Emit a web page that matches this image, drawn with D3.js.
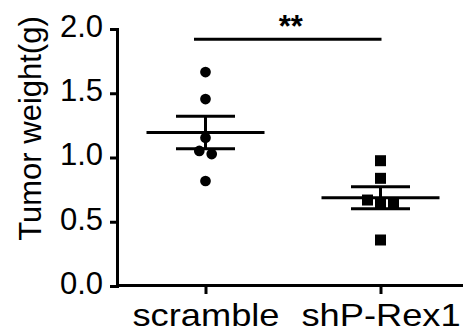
<!DOCTYPE html>
<html>
<head>
<meta charset="utf-8">
<script src="https://cdn.jsdelivr.net/npm/d3@7"></script>
<style>
  body { margin: 0; background: #fff; }
  svg { display: block; font-family: 'Liberation Sans', Arial, sans-serif; }
</style>
</head>
<body>
<svg id="chart"></svg>
<script>
// values (tumor weight, g)
const categories = ['scramble', 'shP-Rex1'];
const scrambleWeights = [1.665, 1.455, 1.154, 1.051, 1.027, 0.817];
const shpRex1Weights = [0.975, 0.838, 0.669, 0.638, 0.638, 0.358];
const yTicks = [0, 0.5, 1.0, 1.5, 2.0];
const yLabel = 'Tumor weight(g)';
const significance = '**';
const significanceLevel = 1.92;

const width = 463,
    height = 335;
const margin = { top: 29, right: 0, bottom: 49, left: 117 };

const svg = d3.select('#chart')
    .attr('width', width)
    .attr('height', height);

const x = d3.scalePoint()
    .domain(categories)
    .range([margin.left + 1, width + 5])
    .padding(0.5);

const y = d3.scaleLinear()
    .domain([0, 2])
    .range([height - margin.bottom, margin.top]);

// y axis
const yAxis = svg.append('g')
    .attr('transform', 'translate(' + margin.left + ',0)')
    .call(d3.axisLeft(y).tickValues(yTicks).tickFormat(d3.format('.1f')).tickSize(7).tickPadding(7));

yAxis.selectAll('text')
    .attr('dy', '0.24em')
    .style('font-size', '31px')
    .style('fill', '#000');

// x axis
const xAxis = svg.append('g')
    .attr('transform', 'translate(0,' + (y(0) - 1) + ')')
    .call(d3.axisBottom(x).tickSize(9).tickPadding(10).tickSizeOuter(0));

xAxis.selectAll('text')
    .attr('transform', 'scale(1.17,1)')
    .style('font-size', '31px')
    .style('fill', '#000');

svg.selectAll('.domain, .tick line')
    .attr('stroke', '#000')
    .attr('stroke-width', 3);

svg.append('text')
    .attr('transform', 'translate(41,128.5) rotate(-90)')
    .attr('text-anchor', 'middle')
    .style('font-size', '31px')
    .text(yLabel);

// spread overlapping points sideways, like a scatter dot plot
function spread(values, gap) {
    const order = d3.range(values.length).sort((a, b) => values[b] - values[a]);
    const offsets = values.map(() => 0);
    let cluster = [order[0]];
    const flush = () => {
        cluster.forEach((idx, k) => { offsets[idx] = (k - (cluster.length - 1) / 2) * gap; });
    };
    for (let k = 1; k < order.length; k++) {
        const prev = order[k - 1], cur = order[k];
        if (y(values[cur]) - y(values[prev]) < gap - 1) {
            cluster.push(cur);
        } else {
            flush();
            cluster = [cur];
        }
    }
    flush();
    return offsets;
}

const groups = [
    { name: categories[0], values: scrambleWeights, symbol: d3.symbolCircle, size: 90, gap: 12.4 },
    { name: categories[1], values: shpRex1Weights, symbol: d3.symbolSquare, size: 121, gap: 13 }
];

groups.forEach(function (grp) {
    const cx = x(grp.name);
    const mean = d3.mean(grp.values);
    const sem = d3.deviation(grp.values) / Math.sqrt(grp.values.length);
    const g = svg.append('g').attr('stroke', '#000').attr('stroke-width', 3);

    g.append('line')
        .attr('x1', cx - 59).attr('x2', cx + 59)
        .attr('y1', y(mean)).attr('y2', y(mean));
    g.append('line')
        .attr('x1', cx).attr('x2', cx)
        .attr('y1', y(mean + sem)).attr('y2', y(mean - sem));
    [mean + sem, mean - sem].forEach(function (v) {
        g.append('line')
            .attr('x1', cx - 29.5).attr('x2', cx + 29.5)
            .attr('y1', y(v)).attr('y2', y(v));
    });

    const offsets = spread(grp.values, grp.gap);
    svg.append('g').selectAll('path')
        .data(grp.values)
        .enter().append('path')
        .attr('d', d3.symbol().type(grp.symbol).size(grp.size))
        .attr('transform', (d, i) => 'translate(' + (cx + offsets[i]) + ',' + y(d) + ')')
        .attr('fill', '#000');
});

// significance bracket
const x1 = x(categories[0]) - 11.5,
    x2 = x(categories[1]) + 1;
svg.append('line')
    .attr('x1', x1).attr('x2', x2)
    .attr('y1', y(significanceLevel)).attr('y2', y(significanceLevel))
    .attr('stroke', '#000')
    .attr('stroke-width', 3);

svg.append('text')
    .attr('x', (x1 + x2) / 2 + 3)
    .attr('y', y(significanceLevel) - 2.5)
    .attr('text-anchor', 'middle')
    .style('font-size', '31px')
    .style('font-weight', 'bold')
    .text(significance);
</script>
</body>
</html>
